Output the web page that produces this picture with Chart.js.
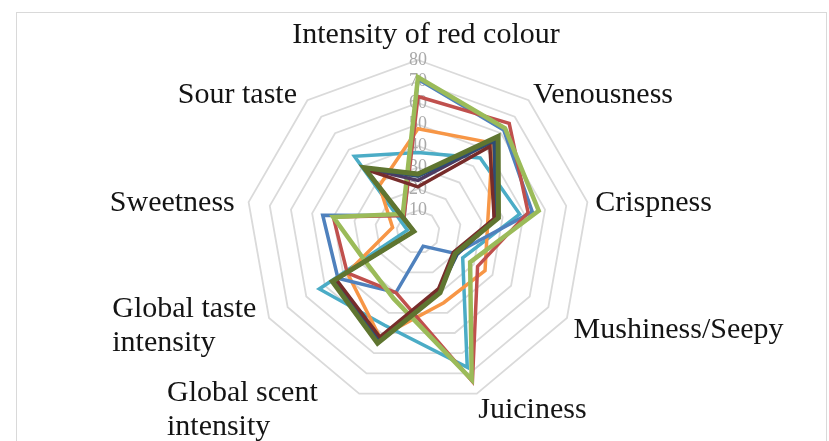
<!DOCTYPE html>
<html>
<head>
<meta charset="utf-8">
<script src="https://cdn.jsdelivr.net/npm/chart.js@4.4.1/dist/chart.umd.min.js"></script>
<style>
  html, body { margin: 0; padding: 0; background: #fff; }
  #wrap { width: 829px; height: 441px; position: relative; }
</style>
</head>
<body>
<div id="wrap"><canvas id="sensoryChart" width="829" height="441"></canvas></div>
<script>
// attributes, clockwise from the top
const attributes = [
    "Intensity of red colour",
    "Venousness",
    "Crispness",
    "Mushiness/Seepy",
    "Juiciness",
    ["Global scent", "intensity"],
    ["Global taste", "intensity"],
    "Sweetness",
    "Sour taste"
];

const tickValues = [0, 10, 20, 30, 40, 50, 60, 70, 80];

// panel scores per sample
const blueScores       = [71, 62, 54, 20, 7, 30, 43, 45, 10];
const redScores        = [63, 66, 52, 32, 74, 30, 38, 40, 10];
const greenScores      = [72, 63, 57, 28, 73, 33, 28, 40, 11];
const cyanScores       = [37, 45, 48, 24, 67, 46, 53, 5, 46];
const orangeScores     = [48, 54, 33, 36, 35, 52, 38, 12, 28];
const navyScores       = [26, 55, 37, 21, 29, 53, 45, 2, 39];
const maroonScores     = [21, 52, 36, 19, 28, 52, 44, 2, 38];
const darkGreenScores  = [27, 58, 38, 20, 30, 55, 46, 2, 39];
const darkPurpleScores = [24, 56, 36, 20, 29, 54, 45, 2, 39];

const line = (data, color, width) => ({
    data: data,
    borderColor: color,
    backgroundColor: color,
    borderWidth: width,
    fill: false,
    pointRadius: 0,
    tension: 0
});

// draws the axis titles roughly where Excel puts them
const axisTitles = {
    id: "axisTitles",
    afterDraw(chart) {
        const scale = chart.scales.r;
        const ctx = chart.ctx;
        const lineH = 34;
        ctx.save();
        ctx.font = '30px "Liberation Serif", "Times New Roman", serif';
        ctx.fillStyle = "#141414";
        ctx.textBaseline = "middle";
        ctx.textAlign = "left";
        attributes.forEach((label, i) => {
            const lines = Array.isArray(label) ? label : [label];
            const deg = i * 360 / attributes.length;
            const p = scale.getPointPosition(i, scale.drawingArea + 10);
            const w = Math.max(...lines.map(t => ctx.measureText(t).width));
            const h = lines.length * lineH;
            let left, top;
            if (deg === 0) {
                left = p.x - w / 2 + 8;
                top = p.y - h + 2;
            } else if (deg < 180) {
                left = p.x - 2;
                top = p.y - h / 2 + 3;
            } else {
                left = p.x - w - 4;
                top = p.y - h / 2 + 3;
            }
            if (deg > 90 && deg <= 200) top += 4;
            if (i === 5) left -= 34;   // Excel pulls this one further out
            lines.forEach((t, k) => {
                ctx.fillText(t, left, top + lineH * (k + 0.5));
            });
        });
        ctx.restore();
    }
};

const frame = {
    id: "frame",
    beforeDraw(chart) {
        const ctx = chart.ctx;
        ctx.save();
        ctx.strokeStyle = "#d9d9d9";
        ctx.lineWidth = 1;
        ctx.strokeRect(16.5, 12.5, 810, 440);
        ctx.restore();
    }
};

const ctx = document.getElementById("sensoryChart").getContext("2d");

new Chart(ctx, {
    type: "radar",
    data: {
        labels: attributes,
        datasets: [
            line(darkGreenScores, "#5F7530", 5),
            line(maroonScores, "#772C2A", 3.5),
            line(navyScores, "#2C4D75", 3.5),
            line(darkPurpleScores, "#4D3B62", 3.5),
            line(greenScores, "#9BBB59", 4.5),
            line(redScores, "#C0504D", 3.5),
            line(blueScores, "#4F81BD", 3.5),
            line(orangeScores, "#F79646", 3.5),
            line(cyanScores, "#4BACC6", 3.5)
        ]
    },
    options: {
        responsive: false,
        animation: false,
        layout: {
            padding: { top: 49, bottom: 26, left: 7, right: 0 }
        },
        plugins: {
            legend: { display: false },
            tooltip: { enabled: false }
        },
        scales: {
            r: {
                min: tickValues[0],
                max: tickValues[tickValues.length - 1],
                angleLines: { display: false },
                grid: { color: "#dadada", lineWidth: 1.8 },
                pointLabels: { display: false },
                ticks: {
                    stepSize: 10,
                    showLabelBackdrop: false,
                    color: "#a8a8a8",
                    font: { family: '"Liberation Serif", serif', size: 18 }
                }
            }
        }
    },
    plugins: [frame, axisTitles]
});
</script>
</body>
</html>
